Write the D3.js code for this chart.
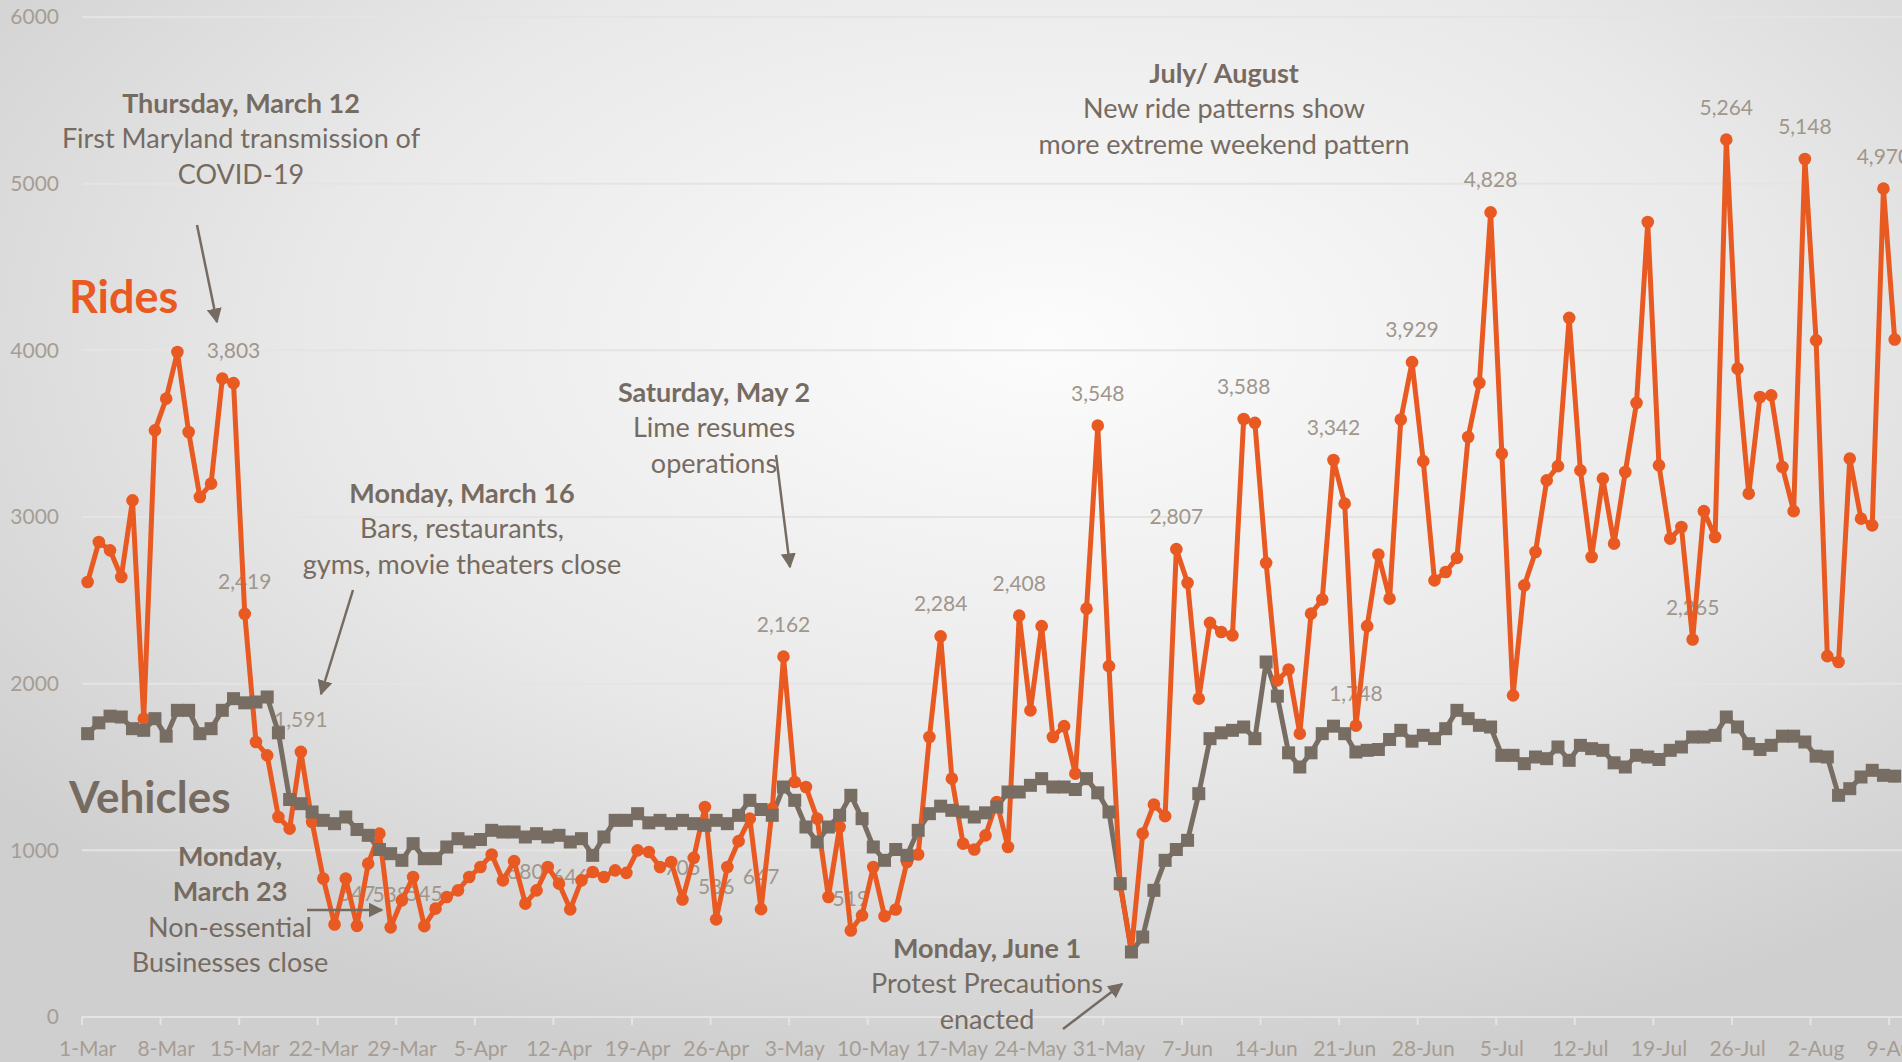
<!DOCTYPE html>
<html>
<head>
<meta charset="utf-8">
<script src="https://cdn.jsdelivr.net/npm/d3@7"></script>
<style>
  html, body { margin: 0; padding: 0; overflow: hidden; }
  svg { display: block; font-family: Lato, "Open Sans", sans-serif; }
</style>
</head>
<body>
<div id="chart"></div>
<script>
// daily counts, 1-Mar to 9-Aug 2020
const rides = [
  2610, 2850, 2800, 2640, 3100, 1790, 3520, 3710, 3990, 3510, 3120, 3200, 3830, 3803,
  2419, 1650, 1570, 1200, 1130, 1591, 1170, 830, 555, 830, 547, 920, 1100, 538,
  700, 840, 545, 650, 720, 760, 840, 900, 975, 820, 935, 680, 760, 900,
  800, 646, 820, 870, 840, 880, 865, 1000, 990, 900, 930, 705, 955, 1260,
  586, 900, 1055, 1190, 647, 1250, 2162, 1410, 1380, 1190, 720, 1140, 519, 610,
  900, 605, 645, 930, 975, 1680, 2284, 1430, 1040, 1005, 1090, 1290, 1020, 2408,
  1840, 2345, 1680, 1745, 1460, 2450, 3548, 2105, 790, 400, 1100, 1275, 1205, 2807,
  2605, 1910, 2365, 2310, 2290, 3588, 3565, 2725, 2020, 2085, 1700, 2420, 2505, 3342,
  3080, 1748, 2345, 2775, 2510, 3585, 3929, 3335, 2620, 2670, 2755, 3480, 3805, 4828,
  3380, 1930, 2590, 2790, 3220, 3305, 4195, 3280, 2760, 3230, 2840, 3270, 3685, 4770,
  3310, 2870, 2940, 2265, 3035, 2880, 5264, 3890, 3140, 3720, 3730, 3300, 3035, 5148,
  4060, 2165, 2130, 3350, 2990, 2950, 4970, 4065
];
const vehicles = [
  1700, 1765, 1805, 1800, 1730, 1720, 1790, 1685, 1840, 1840, 1700, 1730, 1840, 1910,
  1885, 1890, 1920, 1705, 1305, 1280, 1230, 1180, 1160, 1200, 1125, 1090, 1005, 980,
  940, 1040, 950, 950, 1020, 1070, 1050, 1065, 1120, 1110, 1110, 1080, 1100, 1080,
  1090, 1050, 1070, 970, 1080, 1180, 1180, 1220, 1165, 1180, 1160, 1180, 1160, 1150,
  1180, 1160, 1210, 1300, 1245, 1210, 1380, 1300, 1140, 1050, 1140, 1210, 1330, 1190,
  1020, 940, 1005, 970, 1120, 1220, 1265, 1240, 1230, 1200, 1225, 1260, 1350, 1350,
  1390, 1430, 1380, 1380, 1365, 1430, 1345, 1230, 800, 390, 480, 760, 940, 1005,
  1060, 1340, 1670, 1705, 1720, 1740, 1670, 2130, 1925, 1585, 1500, 1585, 1700, 1745,
  1700, 1590, 1600, 1605, 1665, 1720, 1655, 1690, 1670, 1730, 1840, 1790, 1750, 1740,
  1570, 1570, 1520, 1560, 1550, 1620, 1540, 1630, 1610, 1600, 1525, 1500, 1570, 1560,
  1545, 1600, 1620, 1680, 1680, 1690, 1800, 1740, 1640, 1605, 1630, 1685, 1685, 1650,
  1565, 1560, 1330, 1370, 1440, 1480, 1450, 1445
];
// rides points that carry a value label (day index)
const labelled = [13, 14, 19, 24, 27, 30, 39, 43, 53, 56, 60, 62, 68, 76, 83, 90, 97,
  103, 111, 113, 118, 125, 143, 146, 153, 160];
const yTicks = [0, 1000, 2000, 3000, 4000, 5000, 6000];
const xTickLabels = ["1-Mar", "8-Mar", "15-Mar", "22-Mar", "29-Mar", "5-Apr", "12-Apr",
  "19-Apr", "26-Apr", "3-May", "10-May", "17-May", "24-May", "31-May", "7-Jun", "14-Jun",
  "21-Jun", "28-Jun", "5-Jul", "12-Jul", "19-Jul", "26-Jul", "2-Aug", "9-Aug"];

//categories: every day from 1-Mar, axis runs a week past the last data point
const fmt = d3.timeFormat("%-d-%b");
const days = d3.timeDay.range(new Date(2020, 2, 1), new Date(2020, 7, 16)).map(fmt);

const W = 1902, H = 1062;
const orange = "#e85a22", grey = "#786d63", textCol = "#766b61", tickCol = "#a69d94";

const svg = d3.select("#chart").append("svg")
  .attr("width", W).attr("height", H);

// soft radial background like the slide
const defs = svg.append("defs");
const grad = defs.append("radialGradient")
  .attr("id", "bg").attr("cx", "55%").attr("cy", "32%").attr("r", "70%");
grad.append("stop").attr("offset", "0%").attr("stop-color", "#fcfcfc");
grad.append("stop").attr("offset", "55%").attr("stop-color", "#e9e9e9");
grad.append("stop").attr("offset", "100%").attr("stop-color", "#cfcfcf");
svg.append("rect").attr("width", W).attr("height", H).attr("fill", "url(#bg)");

defs.append("marker")
  .attr("id", "arrow").attr("viewBox", "0 0 10 10")
  .attr("refX", 9).attr("refY", 5)
  .attr("markerWidth", 6).attr("markerHeight", 6)
  .attr("orient", "auto-start-reverse")
  .append("path").attr("d", "M0,0 L10,5 L0,10 z").attr("fill", textCol);

const plotLeft = 82, plotTop = 17, plotBottom = 1017;
const step = 11.224;
const x = d3.scaleBand().domain(days).range([plotLeft, plotLeft + step * days.length]).padding(0);
const y = d3.scaleLinear().domain([0, 6000]).range([plotBottom, plotTop]);
const cx = i => x(days[i]) + x.bandwidth() / 2;

// gridlines
svg.append("g").selectAll("line").data(yTicks.filter(d => d > 0)).enter().append("line")
  .attr("x1", plotLeft).attr("x2", W)
  .attr("y1", d => y(d)).attr("y2", d => y(d))
  .attr("stroke", "#e6e4e2").attr("stroke-width", 2);

// y axis labels
const yAxis = svg.append("g").attr("transform", "translate(59,0)")
  .call(d3.axisLeft(y).tickValues(yTicks).tickSize(0).tickPadding(0).tickFormat(d3.format("d")));
yAxis.select(".domain").remove();
yAxis.selectAll("text").attr("fill", tickCol).style("font-size", "21px")
  .style("font-family", "Lato, sans-serif");

// x axis, ticks sit between categories like Excel
const xAxis = svg.append("g").attr("transform", "translate(0," + plotBottom + ")")
  .call(d3.axisBottom(x)
    .tickValues(xTickLabels)
    .tickSizeOuter(0).tickSizeInner(8).tickPadding(16));
xAxis.select(".domain").attr("stroke", "#e6e4e2").attr("stroke-width", 2)
  .attr("d", "M" + plotLeft + ",0H" + (plotLeft + step * days.length));
xAxis.selectAll(".tick line").attr("stroke", "#e6e4e2").attr("stroke-width", 2)
  .attr("x1", -x.bandwidth() / 2).attr("x2", -x.bandwidth() / 2);
xAxis.selectAll(".tick text").attr("fill", tickCol).style("font-size", "21px")
  .style("font-family", "Lato, sans-serif");

// value labels (under the lines)
svg.append("g").selectAll("text").data(labelled).enter().append("text")
  .attr("x", i => cx(i)).attr("y", i => y(rides[i]) - 25)
  .attr("text-anchor", "middle")
  .attr("fill", "#a0968c").style("font-size", "21px")
  .text(i => d3.format(",")(rides[i]));

const line = d3.line().x((d, i) => cx(i)).y(d => y(d));

svg.append("path").datum(vehicles).attr("d", line)
  .attr("fill", "none").attr("stroke", grey).attr("stroke-width", 5)
  .attr("stroke-linejoin", "round");
svg.append("path").datum(rides).attr("d", line)
  .attr("fill", "none").attr("stroke", orange).attr("stroke-width", 5)
  .attr("stroke-linejoin", "round");

svg.append("g").selectAll("circle").data(rides).enter().append("circle")
  .attr("cx", (d, i) => cx(i)).attr("cy", d => y(d)).attr("r", 6.3)
  .attr("fill", orange);
svg.append("g").selectAll("rect").data(vehicles).enter().append("rect")
  .attr("x", (d, i) => cx(i) - 6.5).attr("y", d => y(d) - 6.5)
  .attr("width", 13).attr("height", 13).attr("fill", grey);

// series names
svg.append("text").attr("x", 69).attr("y", 313).attr("fill", orange)
  .style("font-size", "45px").style("font-weight", "bold").text("Rides");
svg.append("text").attr("x", 69).attr("y", 813).attr("fill", textCol)
  .style("font-size", "44px").style("font-weight", "bold").text("Vehicles");

// annotations: centre x, first baseline, lines [text, bold]
const notes = [
  { x: 241, y: 113, lines: [["Thursday, March 12", 1], ["First Maryland transmission of", 0], ["COVID-19", 0]] },
  { x: 462, y: 503, lines: [["Monday, March 16", 1], ["Bars, restaurants,", 0], ["gyms, movie theaters close", 0]] },
  { x: 230, y: 866, lines: [["Monday,", 1], ["March 23", 1], ["Non-essential", 0], ["Businesses close", 0]] },
  { x: 714, y: 402, lines: [["Saturday, May 2", 1], ["Lime resumes", 0], ["operations", 0]] },
  { x: 987, y: 958, lines: [["Monday, June 1", 1], ["Protest Precautions", 0], ["enacted", 0]] },
  { x: 1224, y: 83, lines: [["July/ August", 1], ["New ride patterns show", 0], ["more extreme weekend pattern", 0]] }
];
notes.forEach(n => {
  const t = svg.append("text").attr("text-anchor", "middle").attr("fill", textCol)
    .style("font-size", "27px");
  n.lines.forEach((l, k) => {
    t.append("tspan").attr("x", n.x).attr("y", n.y + k * 35.3)
      .style("font-weight", l[1] ? "bold" : "normal").text(l[0]);
  });
});

const arrows = [
  [197, 225, 217, 322],
  [353, 590, 321, 694],
  [307, 910, 382, 910],
  [776, 455, 790, 567],
  [1063, 1029, 1122, 984]
];
svg.append("g").selectAll("line").data(arrows).enter().append("line")
  .attr("x1", d => d[0]).attr("y1", d => d[1]).attr("x2", d => d[2]).attr("y2", d => d[3])
  .attr("stroke", textCol).attr("stroke-width", 2.5)
  .attr("marker-end", "url(#arrow)");
</script>
</body>
</html>
